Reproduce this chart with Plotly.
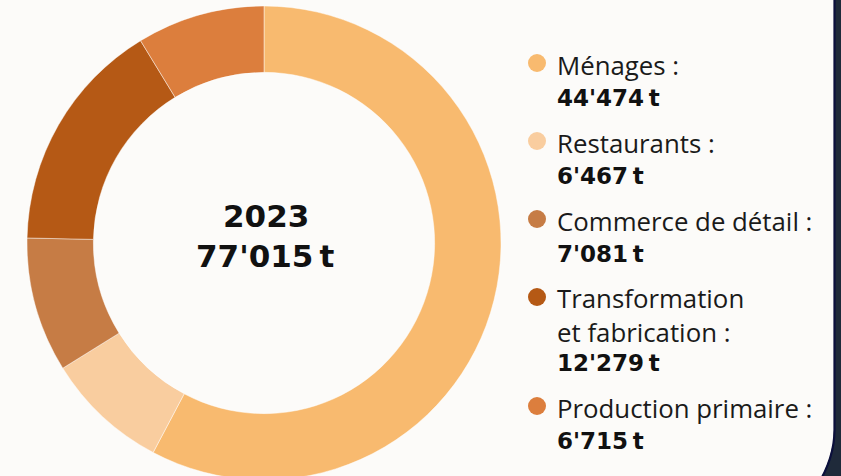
import plotly.graph_objects as go

# ---- data ----
categories = ["Ménages", "Restaurants", "Commerce de détail",
              "Transformation et fabrication", "Production primaire"]
legend_labels = [["Ménages :"], ["Restaurants :"], ["Commerce de détail :"],
                 ["Transformation", "et fabrication :"], ["Production primaire :"]]
values = [44474, 6467, 7081, 12279, 6715]
colors = ["#F8BA6F", "#F9CD9F", "#C67C45", "#B55915", "#DC7E3D"]
year = "2023"
total = 77015

W, H = 841, 486          # window is 841x476; donut runs off the bottom edge
BG = "#FCFBF9"
FONT = "Open Sans"
BOLD = "DejaVu Sans"


def fmt(v):
    return f"{v:,}".replace(",", "'") + "\u2009t"


def px(x, y):
    return x / W, 1 - y / H


fig = go.Figure()

cx_px, cy_px, r_px = 264, 243, 237
fig.add_trace(go.Pie(
    labels=categories, values=values, hole=0.72, sort=False,
    direction="clockwise", rotation=0,
    marker=dict(colors=colors, line=dict(color="rgba(255,255,255,0.45)", width=1)),
    textinfo="none", showlegend=False, hoverinfo="label+value",
    domain=dict(x=[(cx_px - r_px) / W, (cx_px + r_px) / W],
                y=[1 - (cy_px + r_px) / H, 1 - (cy_px - r_px) / H]),
))

annotations = []
shapes = []

# centre text
for txt, yc in [(year, 215.5), (fmt(total), 256)]:
    x, y = px(265.5, yc)
    annotations.append(dict(x=x, y=y, xref="paper", yref="paper", text=f"<b>{txt}</b>",
                            showarrow=False, font=dict(family=BOLD, size=31, color="#111111"),
                            xanchor="center", yanchor="middle"))

# custom legend
label_step, value_step, entry_gap = 31, 33, 45
yc = 65
for lab_lines, v, c in zip(legend_labels, values, colors):
    mx0, my0 = px(537 - 9, yc - 2 - 9)
    mx1, my1 = px(537 + 9, yc - 2 + 9)
    shapes.append(dict(type="circle", xref="paper", yref="paper", x0=mx0, x1=mx1, y0=my1, y1=my0,
                       fillcolor=c, line=dict(width=0)))
    n = len(lab_lines)
    x, y = px(555, yc + (n - 1) * label_step / 2)
    annotations.append(dict(x=x, y=y, xref="paper", yref="paper", text="<br>".join(lab_lines),
                            align="left", showarrow=False,
                            font=dict(family=FONT, size=25.8, color="#1a1a1a"),
                            xanchor="left", yanchor="middle"))
    yc += (n - 1) * label_step + value_step
    x, y = px(555, yc)
    annotations.append(dict(x=x, y=y, xref="paper", yref="paper", text=f"<b>{fmt(v)}</b>",
                            showarrow=False, font=dict(family=BOLD, size=23, color="#111111"),
                            xanchor="left", yanchor="middle"))
    yc += entry_gap


# card frame at right edge
def P(x, y):
    a, b = px(x, y)
    return f"{a:.5f},{b:.5f}"


frame_fill = (f"M {P(834.5, 0)} L {P(841, 0)} L {P(841, H)} L {P(817, H)} "
              f"Q {P(834.5, 458)} {P(834.5, 430)} Z")
shapes.append(dict(type="path", xref="paper", yref="paper", path=frame_fill,
                   fillcolor="#1F2A3A", line=dict(color="#1F2A3A", width=1), layer="above"))
frame_line = f"M {P(834.5, 0)} L {P(834.5, 430)} Q {P(834.5, 458)} {P(817, H)}"
shapes.append(dict(type="path", xref="paper", yref="paper", path=frame_line,
                   line=dict(color="#0B0F3C", width=2.2), layer="above"))

fig.update_layout(
    width=W, height=H, margin=dict(l=0, r=0, t=0, b=0),
    paper_bgcolor=BG, plot_bgcolor=BG,
    annotations=annotations, shapes=shapes,
)

fig.write_html(
    "out.html",
    config={"displayModeBar": False},
    post_script=("document.body.style.margin='0';document.body.style.overflow='hidden';"
                 f"document.body.style.background='{BG}';"),
)
